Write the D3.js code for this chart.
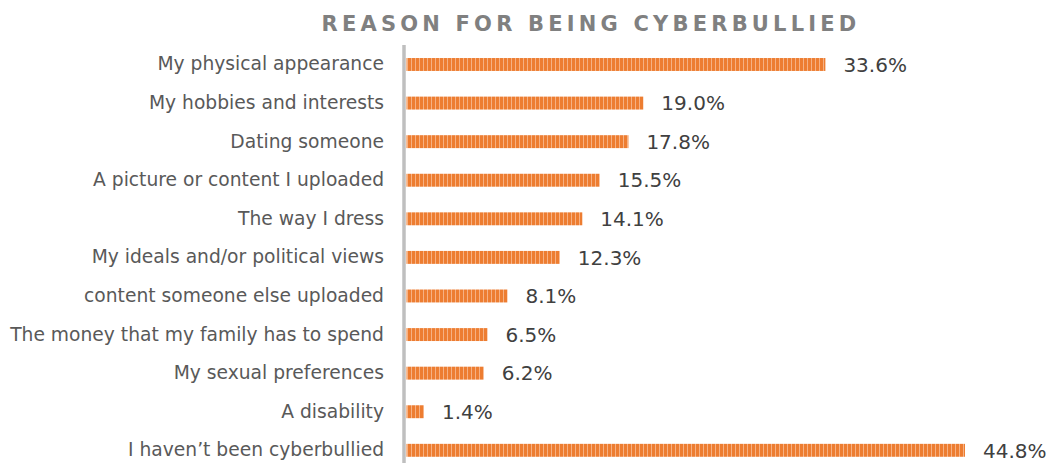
<!DOCTYPE html>
<html>
<head>
<meta charset="utf-8">
<script src="https://cdn.jsdelivr.net/npm/d3@7/dist/d3.min.js"></script>
<style>
  html, body { margin: 0; padding: 0; background: #fff; }
  svg { display: block; }
</style>
</head>
<body>
<svg id="chart" width="1047" height="463"></svg>
<script>
// Reasons respondents gave for being cyberbullied (% of respondents)
const categories = [
  "My physical appearance",
  "My hobbies and interests",
  "Dating someone",
  "A picture or content I uploaded",
  "The way I dress",
  "My ideals and/or political views",
  "content someone else uploaded",
  "The money that my family has to spend",
  "My sexual preferences",
  "A disability",
  "I haven\u2019t been cyberbullied"
];
const values = [33.6, 19.0, 17.8, 15.5, 14.1, 12.3, 8.1, 6.5, 6.2, 1.4, 44.8];
const title = "REASON FOR BEING CYBERBULLIED";

const svg = d3.select("#chart");
const W = 1047, H = 463;
const left = 406.5;
const fontFamily = "'Century Gothic', 'URW Gothic', 'DejaVu Sans', sans-serif";

// Striped orange fill for the bars
const defs = svg.append("defs");
const pat = defs.append("pattern")
  .attr("id", "stripes")
  .attr("patternUnits", "userSpaceOnUse")
  .attr("width", 4).attr("height", 10);
pat.append("rect").attr("width", 4).attr("height", 10).attr("fill", "#ED7D31");
pat.append("rect").attr("x", 3).attr("width", 1).attr("height", 10).attr("fill", "#F6B183");

const x = d3.scaleLinear().domain([0, 44.8]).range([left, 965]);
const y = d3.scaleBand().domain(categories).range([45.2, 469.6]).paddingInner(0.665).paddingOuter(0.3325);

// Title
svg.append("text")
  .attr("x", 591).attr("y", 31)
  .attr("text-anchor", "middle")
  .attr("font-family", fontFamily)
  .attr("font-weight", "bold")
  .attr("font-size", 21)
  .attr("letter-spacing", 4.2)
  .attr("fill", "#808080")
  .text(title);

// Bars
svg.append("g").selectAll("rect")
  .data(values)
  .join("rect")
  .attr("x", x(0))
  .attr("y", (d, i) => y(categories[i]))
  .attr("width", d => x(d) - x(0))
  .attr("height", y.bandwidth())
  .attr("fill", "url(#stripes)");

// Value labels
svg.append("g").selectAll("text")
  .data(values)
  .join("text")
  .attr("x", d => x(d) + 18)
  .attr("y", (d, i) => y(categories[i]) + y.bandwidth() / 2)
  .attr("dy", "0.36em")
  .attr("font-family", fontFamily)
  .attr("font-size", 20)
  .attr("fill", "#404040")
  .text(d => d.toFixed(1) + "%");

// Category axis
const axis = svg.append("g")
  .attr("transform", `translate(${left - 2.5},0)`)
  .call(d3.axisLeft(y).tickSize(0).tickPadding(20));
axis.select(".domain").remove();
axis.append("line")
  .attr("x1", 0).attr("x2", 0)
  .attr("y1", 45).attr("y2", H)
  .attr("stroke", "#BFBFBF").attr("stroke-width", 3.5);
axis.selectAll(".tick text")
  .attr("font-family", fontFamily)
  .attr("font-size", 18.7)
  .attr("fill", "#595959");
</script>
</body>
</html>
